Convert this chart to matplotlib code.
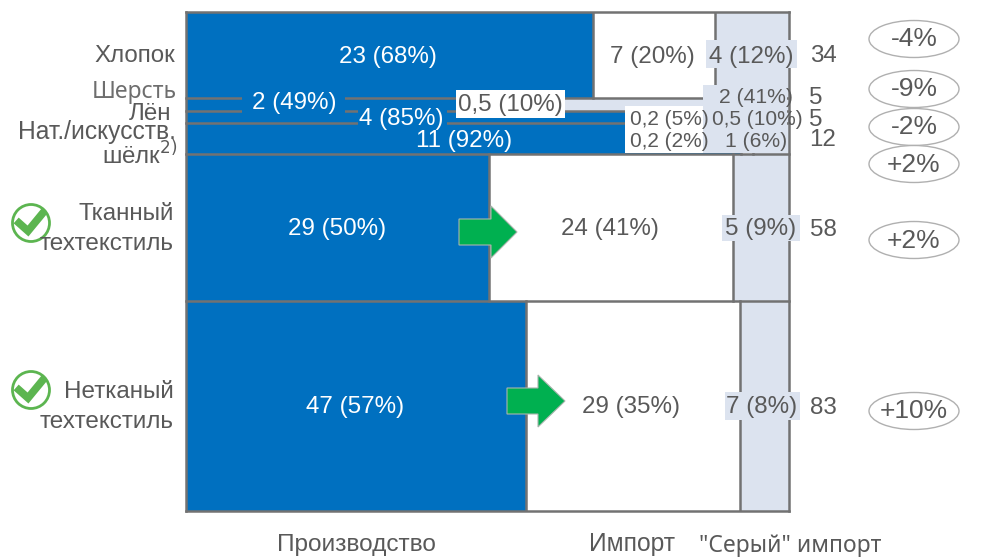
import matplotlib
matplotlib.use("Agg")
import matplotlib.pyplot as plt
from matplotlib.patches import Ellipse, Circle, Polygon, Rectangle

plt.rcParams['font.family'] = ['Liberation Sans', 'DejaVu Sans']

# Data
names = ["Хлопок", "Шерсть", "Лён", "Нат./искусств. шёлк", "Тканный", "Нетканый"]
totals = [34, 5, 5, 12, 58, 83]
prod_share = [67.5, 49, 85, 92, 50.2, 56.4]
imp_share = [20.2, 10, 5, 2, 40.5, 35.5]
grey_share = [12.3, 41, 10, 6, 9.3, 8.1]
prod_labels = ["23 (68%)", "2 (49%)", "4 (85%)", "11 (92%)", "29 (50%)", "47 (57%)"]
imp_labels = ["7 (20%)", "0,5 (10%)", "0,2 (5%)", "0,2 (2%)", "24 (41%)", "29 (35%)"]
grey_labels = ["4 (12%)", "2 (41%)", "0,5 (10%)", "1 (6%)", "5 (9%)", "7 (8%)"]
changes = ["-4%", "-9%", "-2%", "+2%", "+2%", "+10%"]
legend_names = ["Производство", "Импорт", "\"Серый\" импорт"]

BLUE = "#0070c0"
LIGHT = "#dce3ef"
LINE = "#727272"
TEXT = "#595959"
GREEN = "#00b050"
CHECK = "#5cb550"

W, H = 990, 557
fig = plt.figure(figsize=(W / 100, H / 100), dpi=100)

# Main marimekko, widths in % and heights in totals
ax = fig.add_axes([186 / W, 1 - 511 / H, (789 - 186) / W, (511 - 12) / H])
ax.set_xlim(0, 100)
ax.set_ylim(sum(totals), 0)
ax.axis("off")

top = 0
for i in range(len(totals)):
    h = totals[i]
    ax.barh(top, prod_share[i], height=h, align="edge", color=BLUE, lw=0)
    ax.barh(top, imp_share[i], left=prod_share[i], height=h, align="edge", color="white", lw=0)
    ax.barh(top, grey_share[i], left=prod_share[i] + imp_share[i], height=h, align="edge", color=LIGHT, lw=0)
    # separators
    ax.plot([0, 100], [top, top], color=LINE, lw=1.8, clip_on=False)
    if h > 6:
        ax.plot([prod_share[i]] * 2, [top, top + h], color=LINE, lw=1.8)
        ax.plot([prod_share[i] + imp_share[i]] * 2, [top, top + h], color=LINE, lw=1.8)
    top += h
ax.plot([0, 100], [top, top], color=LINE, lw=1.8, clip_on=False)
ax.plot([0, 0], [0, top], color=LINE, lw=1.8, clip_on=False)
ax.plot([100, 100], [0, top], color=LINE, lw=1.8, clip_on=False)

# Overlay in pixels for labels and decoration
ov = fig.add_axes([0, 0, 1, 1], facecolor="none")
ov.set_xlim(0, W)
ov.set_ylim(H, 0)
ov.axis("off")


def box(x0, y0, x1, y1, color):
    ov.add_patch(Rectangle((x0, y0), x1 - x0, y1 - y0, fc=color, ec="none"))


def label(x, y, s, color=TEXT, size=17.4, ha="center", **kw):
    ov.text(x, y + 1.5, s, color=color, fontsize=size, ha=ha, va="center", **kw)


def arrow(x0, x1, xh, y):
    pts = [(x0, y - 13), (xh, y - 13), (xh, y - 26), (x1, y), (xh, y + 26), (xh, y + 13), (x0, y + 13)]
    ov.add_patch(Polygon(pts, fc=GREEN, ec="#a9b5ad", lw=0.8, zorder=4))


def check(x, y):
    ov.add_patch(Circle((x, y), 18.5, fc="white", ec=CHECK, lw=2, zorder=3))
    ov.plot([x - 12, x - 3, x + 11], [y, y + 8, y - 9], color=CHECK, lw=5.5, solid_joinstyle="miter", zorder=4)


# Masks behind the labels of the thin rows
box(242, 88, 345, 116, BLUE)
box(358, 104, 447, 130, BLUE)
box(456, 90, 565, 118, "white")
box(625, 106, 703, 153, "white")
box(703, 85, 787, 153, LIGHT)
box(706, 40, 797, 68, LIGHT)
box(722, 215, 800, 241, LIGHT)
box(725, 392, 800, 420, LIGHT)

# Production labels
label(388, 55, prod_labels[0], color="white")
label(294, 102, prod_labels[1], color="white")
label(401, 117, prod_labels[2], color="white")
label(464, 139, prod_labels[3], color="white")
label(337, 228, prod_labels[4], color="white")
label(355, 406, prod_labels[5], color="white")

# Import labels
label(510, 104, imp_labels[1])
label(652, 55, imp_labels[0])
label(669, 118, imp_labels[2], size=15)
label(669, 140, imp_labels[3], size=15)
label(610, 228, imp_labels[4])
label(631, 406, imp_labels[5])

# Grey import labels
label(751, 55, grey_labels[0])
label(756, 96, grey_labels[1], size=15.2)
label(757, 118, grey_labels[2], size=15)
label(756, 140, grey_labels[3], size=15.2)
label(761, 228, grey_labels[4])
label(762, 406, grey_labels[5])

# Totals
label(823, 55, str(totals[0]))
label(816, 96, str(totals[1]))
label(816, 118, str(totals[2]))
label(823, 139, str(totals[3]))
label(823, 228, str(totals[4]))
label(823, 406, str(totals[5]))

# Row names
label(175, 54, names[0], ha="right", size=17.4)
label(177, 90, names[1], ha="right", size=16.5, color="#6e6e6e", family=["Noto Sans"])
label(171, 113, names[2], ha="right", size=17.4)
label(176, 131, "Нат./искусств.", ha="right", size=17.7)
label(177, 154, "шёлк$^{2)}$", ha="right", size=17.4, math_fontfamily="dejavusans")
label(174, 212, names[4], ha="right", size=17.5)
label(174, 242, "техтекстиль", ha="right", size=17.5, zorder=5)
label(174, 391, names[5], ha="right", size=17.5)
label(174, 421, "техтекстиль", ha="right", size=17.5, zorder=5)

# Change ovals
oval_y = [39, 89, 127, 164, 240, 411]
for y, s in zip(oval_y, changes):
    ov.add_patch(Ellipse((914, y), 90, 37, fc="white", ec="#b0b0b0", lw=1))
    label(914, y - 1, s, size=19)

arrow(459, 517, 491, 232)
arrow(507, 565, 538, 401)
check(31, 223)
check(31, 390)

# Bottom legend
label(356, 543, legend_names[0], size=17.6)
label(632, 543, legend_names[1], size=17.7)
label(790, 544, legend_names[2], size=16.5, family=["Noto Sans"])

fig.savefig("out.png", dpi=100)
